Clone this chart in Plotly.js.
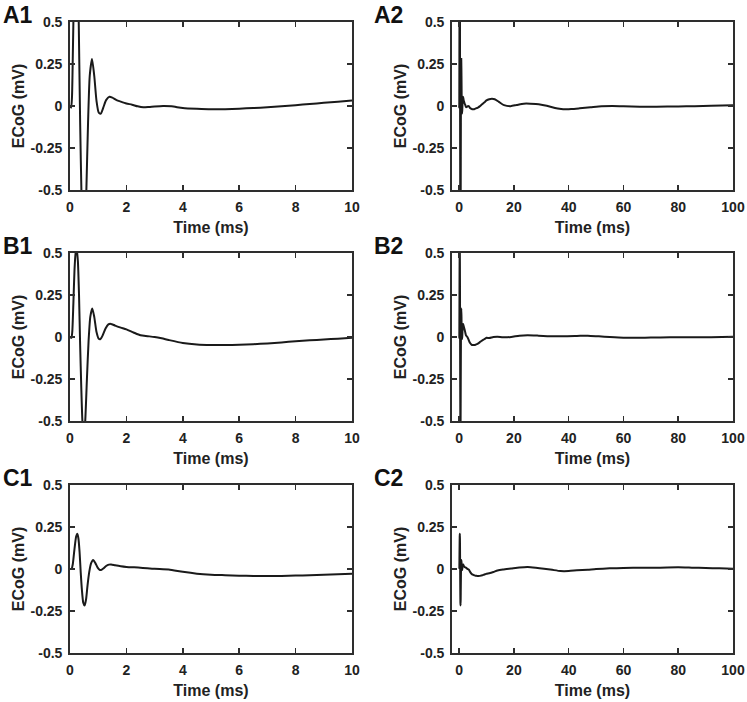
<!DOCTYPE html>
<html>
<head>
<meta charset="utf-8">
<script src="https://cdn.plot.ly/plotly-3.0.1.min.js"></script>
<style>
  html, body { margin: 0; padding: 0; background: #ffffff; }
  #chart { width: 747px; height: 702px; }
</style>
</head>
<body>
<div id="chart"></div>
<script>
// ---------- Data (time in ms, ECoG in mV) ----------
// Row A: 0-10 ms detail
const tA1 = [0, 0.04, 0.07, 0.1, 0.13, 0.17, 0.22, 0.27, 0.31, 0.36, 0.41, 0.46, 0.52, 0.58, 0.64, 0.7, 0.78, 0.86, 0.94, 1.02, 1.09, 1.18, 1.28, 1.4, 1.5, 1.65, 1.8, 2.0, 2.2, 2.4, 2.6, 2.8, 3.0, 3.3, 3.6, 4.0, 4.5, 5.0, 5.5, 6.0, 6.5, 7.0, 7.5, 8.0, 8.5, 9.0, 9.5, 10];
const vA1 = [0, -0.01, 0.05, 0.3, 0.6, 0.9, 1.05, 0.95, 0.5, -0.1, -0.55, -0.85, -0.9, -0.5, -0.1, 0.18, 0.28, 0.18, 0.03, -0.04, -0.045, -0.01, 0.035, 0.055, 0.05, 0.035, 0.026, 0.015, 0.008, -0.002, -0.008, -0.006, -0.003, 0, -0.002, -0.012, -0.017, -0.02, -0.019, -0.016, -0.012, -0.008, -0.002, 0.005, 0.012, 0.019, 0.026, 0.033];
// Row A: 10-100 ms continuation
const tA2tail = [11, 12, 13, 14.5, 16.4, 18.8, 21, 23.6, 26, 28, 30, 32, 34, 36, 38, 41, 44, 48, 52, 56, 60, 66, 72, 80, 86, 92, 100];
const vA2tail = [0.04, 0.043, 0.04, 0.025, 0.005, -0.001, 0.006, 0.014, 0.014, 0.012, 0.008, 0.001, -0.008, -0.015, -0.02, -0.018, -0.014, -0.008, -0.002, 0, -0.002, -0.004, -0.004, -0.003, -0.001, 0.002, 0.005];

// Row B
const tB1 = [0, 0.05, 0.08, 0.12, 0.16, 0.2, 0.24, 0.28, 0.32, 0.36, 0.4, 0.44, 0.49, 0.54, 0.6, 0.66, 0.72, 0.79, 0.86, 0.94, 1.02, 1.08, 1.16, 1.26, 1.36, 1.45, 1.6, 1.8, 2.0, 2.25, 2.5, 2.75, 3.0, 3.25, 3.5, 4.0, 4.5, 5.0, 5.5, 6.0, 6.5, 7.0, 7.5, 8.0, 8.5, 9.0, 9.5, 10];
const vB1 = [0, -0.005, 0.03, 0.2, 0.4, 0.5, 0.52, 0.45, 0.25, -0.05, -0.3, -0.5, -0.6, -0.5, -0.25, -0.02, 0.12, 0.17, 0.12, 0.03, -0.01, -0.012, 0.01, 0.05, 0.075, 0.078, 0.068, 0.056, 0.045, 0.027, 0.01, 0.005, 0, -0.008, -0.018, -0.036, -0.045, -0.048, -0.048, -0.046, -0.043, -0.038, -0.032, -0.025, -0.02, -0.015, -0.01, -0.005];
const tB2tail = [11, 12.5, 14, 16, 19, 22, 25, 29, 33, 38, 43, 47, 51, 55, 60, 65, 70, 77, 85, 92, 100];
const vB2tail = [-0.006, 0.0, 0.002, -0.002, 0.0, 0.008, 0.01, 0.008, 0.005, 0.004, 0.006, 0.008, 0.004, 0, -0.004, -0.005, -0.003, -0.002, -0.002, -0.001, 0.002];

// Row C
const tC1 = [0, 0.06, 0.1, 0.14, 0.18, 0.22, 0.26, 0.3, 0.34, 0.38, 0.42, 0.47, 0.52, 0.57, 0.62, 0.68, 0.75, 0.82, 0.9, 0.98, 1.05, 1.1, 1.18, 1.28, 1.38, 1.46, 1.6, 1.8, 2.0, 2.5, 3.0, 3.5, 4.0, 4.5, 5.0, 5.5, 6.0, 6.5, 7.0, 7.5, 8.0, 8.5, 9.0, 9.5, 10];
const vC1 = [0, 0.002, 0.03, 0.09, 0.15, 0.195, 0.21, 0.18, 0.1, -0.02, -0.12, -0.2, -0.217, -0.18, -0.1, -0.02, 0.035, 0.054, 0.035, 0.008, -0.005, -0.006, 0.003, 0.018, 0.026, 0.027, 0.022, 0.016, 0.012, 0.008, 0.001, -0.003, -0.017, -0.028, -0.034, -0.037, -0.04, -0.041, -0.042, -0.041, -0.039, -0.037, -0.034, -0.031, -0.028];
const tC2tail = [11, 12.5, 14, 16, 19, 22, 25, 28, 31, 34, 37, 40, 43, 47, 50, 55, 60, 67, 73, 80, 85, 90, 95, 100];
const vC2tail = [-0.025, -0.018, -0.009, -0.003, 0.003, 0.009, 0.012, 0.008, 0.002, -0.005, -0.012, -0.012, -0.008, -0.004, 0, 0.004, 0.006, 0.008, 0.008, 0.01, 0.008, 0.006, 0.004, 0.002];

// Labels and ticks
const panelLabels = ["A1", "A2", "B1", "B2", "C1", "C2"];
const yTickVals = [-0.5, -0.25, 0, 0.25, 0.5];
const yTickText = ["-0.5", "-0.25", "0", "0.25", "0.5"];
const xTickShort = [0, 2, 4, 6, 8, 10];
const xTickLong = [0, 20, 40, 60, 80, 100];
const xTitle = "Time (ms)";
const yTitle = "ECoG (mV)";

// ---------- Build traces ----------
const series = [
  [tA1, vA1],
  [tA1.concat(tA2tail), vA1.concat(vA2tail)],
  [tB1, vB1],
  [tB1.concat(tB2tail), vB1.concat(vB2tail)],
  [tC1, vC1],
  [tC1.concat(tC2tail), vC1.concat(vC2tail)]
];

const W = 747, H = 702;
const colPx = [[70, 352], [452, 733]];
const rowPx = [[22, 190], [253, 421], [485, 653]];
const FONT = "Liberation Sans, Arial, Helvetica, sans-serif";
const INK = "#1a1a1a";
const FRAME = "#2e2e2e";

const traces = [];
const layout = {
  width: W, height: H,
  margin: {l: 0, r: 0, t: 0, b: 0},
  paper_bgcolor: "#ffffff",
  plot_bgcolor: "#ffffff",
  showlegend: false,
  font: {family: FONT, color: "#222222"},
  annotations: []
};

series.forEach((s, i) => {
  const r = Math.floor(i / 2), c = i % 2;
  const n = i + 1;
  const xa = "x" + (n === 1 ? "" : n), ya = "y" + (n === 1 ? "" : n);
  traces.push({
    x: s[0], y: s[1], xaxis: xa, yaxis: ya,
    type: "scatter", mode: "lines",
    line: {color: INK, width: 2, shape: "spline", smoothing: 0.6},
    hoverinfo: "skip"
  });
  const common = {
    showline: true, linecolor: FRAME, linewidth: 1.8, mirror: "ticks",
    ticks: "inside", ticklen: 5, tickwidth: 1.5, tickcolor: FRAME,
    showgrid: false, zeroline: false, fixedrange: true,
    ticklabelstandoff: 3,
    tickfont: {family: FONT, size: 14, weight: "bold", color: "#222222"}
  };
  layout["xaxis" + (n === 1 ? "" : n)] = Object.assign({}, common, {
    domain: [colPx[c][0] / W, colPx[c][1] / W],
    anchor: ya,
    range: c === 0 ? [0, 10] : [-2.6, 100],
    tickmode: "array",
    tickvals: c === 0 ? xTickShort : xTickLong,
    ticktext: (c === 0 ? xTickShort : xTickLong).map(String),
    title: {text: xTitle, font: {family: FONT, size: 16, weight: "bold", color: "#222222"}, standoff: 8}
  });
  layout["yaxis" + (n === 1 ? "" : n)] = Object.assign({}, common, {
    domain: [1 - rowPx[r][1] / H, 1 - rowPx[r][0] / H],
    anchor: xa,
    range: [-0.5, 0.5],
    tickmode: "array",
    tickvals: yTickVals,
    ticktext: yTickText,
    title: {text: yTitle, font: {family: FONT, size: 16, weight: "bold", color: "#222222"}, standoff: 2}
  });
  layout.annotations.push({
    text: panelLabels[i],
    xref: "paper", yref: "paper",
    x: (c === 0 ? 1 : 372) / W,
    y: 1 - (rowPx[r][0] - 7) / H,
    xanchor: "left", yanchor: "middle",
    showarrow: false,
    font: {family: FONT, size: 23, weight: "bold", color: "#111111"}
  });
});

Plotly.newPlot("chart", traces, layout, {displayModeBar: false, staticPlot: true});
</script>
</body>
</html>
